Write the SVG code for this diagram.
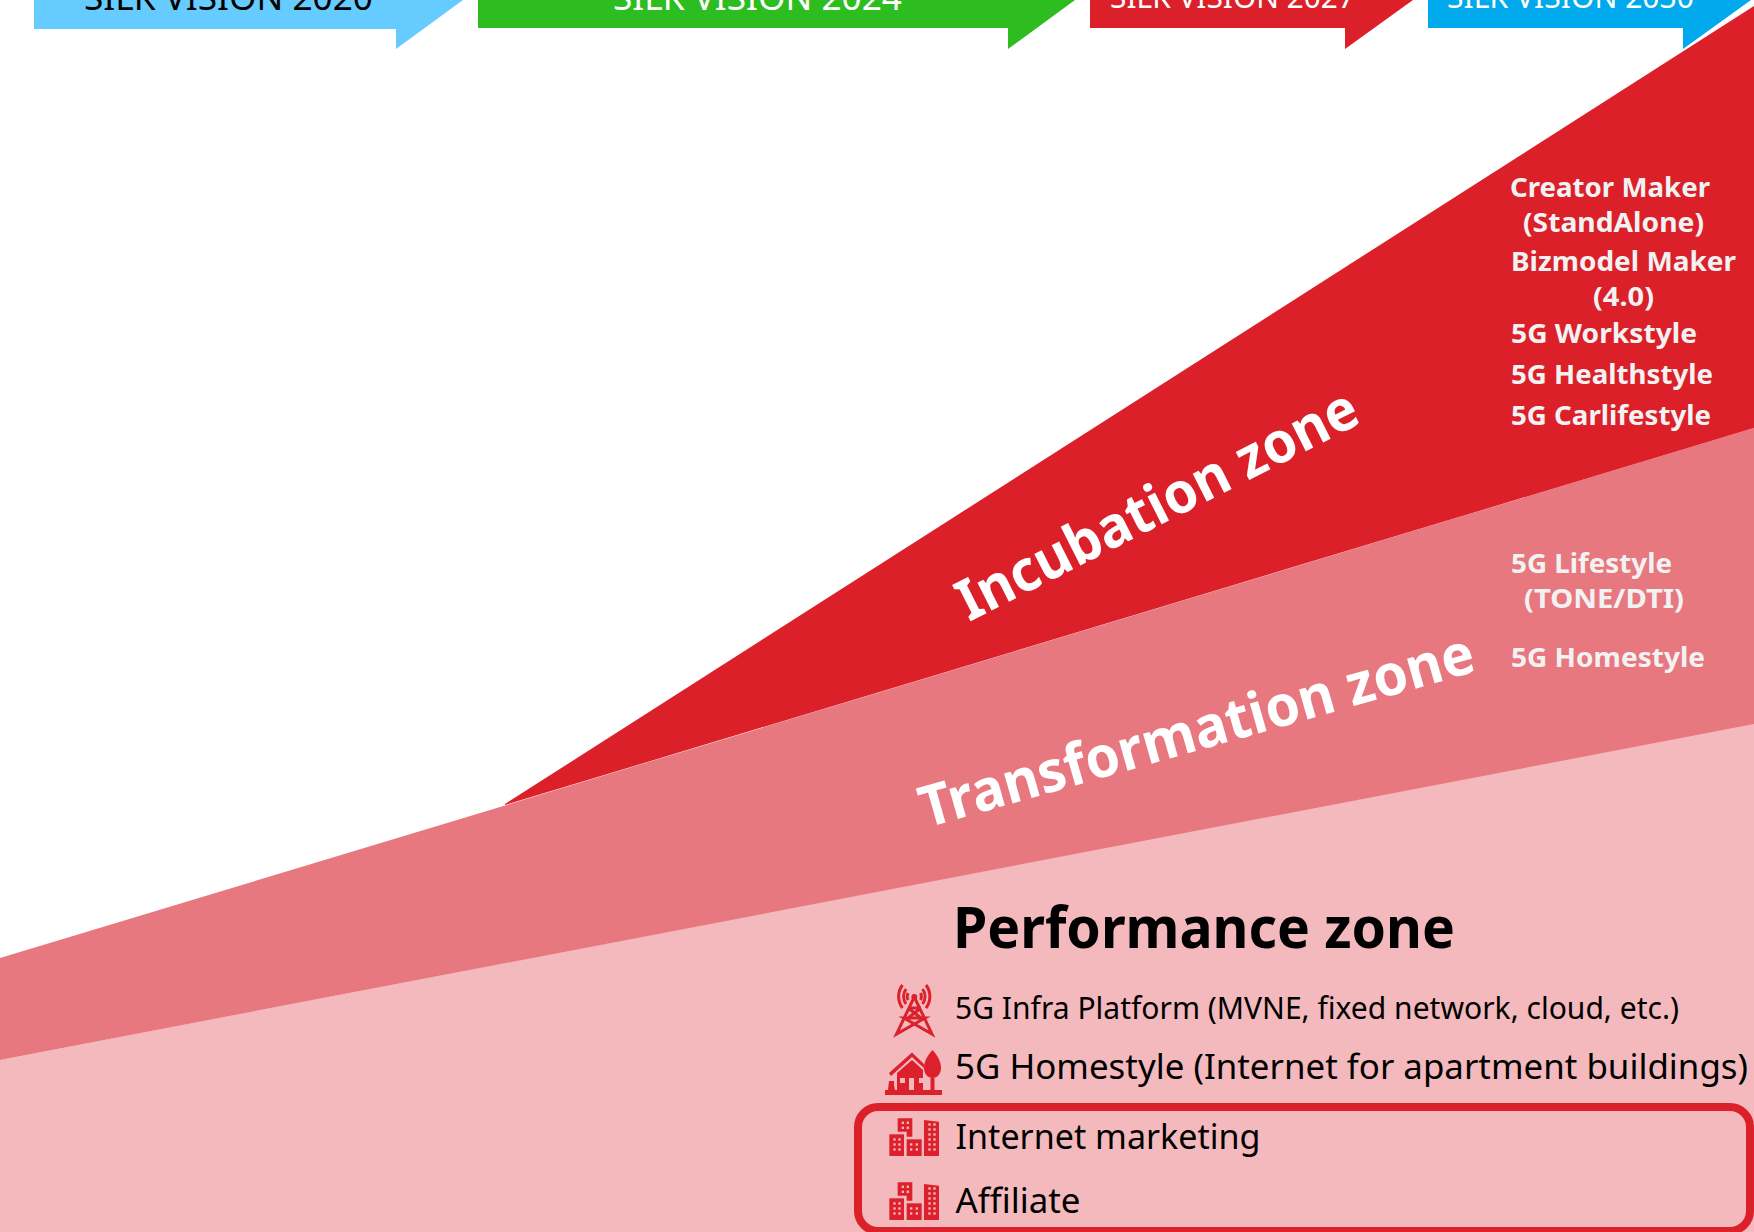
<svg xmlns="http://www.w3.org/2000/svg" width="1754" height="1232" viewBox="0 0 1754 1232">
<style>
text{font-family:"Noto Sans","Open Sans","Liberation Sans",sans-serif}
.ban{font-size:34px}
.ban2{font-size:30px}
.side{font-size:27px;font-weight:700;fill:#f2f2f2}
.zone{font-size:57px;font-weight:700;fill:#fff}
.perf{font-size:57px;font-weight:700;fill:#000}
.item{font-size:35px;fill:#000}
.ic{fill:#dc202c}
.icl{fill:none;stroke:#dc202c;stroke-width:3}
.win{fill:#f4b9bd}
</style>
<defs>
<g id="building">
<path class="ic" d="M113 475H157V530H140V515H113Z"/>
<path class="ic" d="M88 523H132V588H88Z"/>
<path class="ic" d="M140 538H185V588H140Z"/>
<path class="ic" d="M192 480L237 485V588H192Z"/>
<g class="win">
<rect x="125" y="485" width="7" height="7"/><rect x="140" y="485" width="7" height="7"/><rect x="125" y="500" width="7" height="7"/><rect x="140" y="500" width="7" height="7"/>
<rect x="100" y="535" width="7" height="7"/><rect x="115" y="535" width="7" height="7"/><rect x="100" y="550" width="7" height="7"/><rect x="115" y="550" width="7" height="7"/><rect x="100" y="565" width="7" height="7"/><rect x="115" y="565" width="7" height="7"/>
<rect x="150" y="550" width="7" height="7"/><rect x="167" y="550" width="7" height="7"/><rect x="150" y="565" width="7" height="7"/><rect x="167" y="565" width="7" height="7"/>
<rect x="205" y="490" width="7" height="7"/><rect x="220" y="490" width="7" height="7"/><rect x="205" y="505" width="7" height="7"/><rect x="220" y="505" width="7" height="7"/><rect x="205" y="520" width="7" height="7"/><rect x="220" y="520" width="7" height="7"/><rect x="205" y="535" width="7" height="7"/><rect x="220" y="535" width="7" height="7"/><rect x="205" y="550" width="7" height="7"/><rect x="220" y="550" width="7" height="7"/><rect x="205" y="565" width="7" height="7"/><rect x="220" y="565" width="7" height="7"/>
</g>
</g>
</defs>
<rect width="1754" height="1232" fill="#fff"/>
<g id="zones">
<polygon id="performance-area" points="0,1060 1754,723 1754,1232 0,1232" fill="#f4b9bd"/>
<polygon id="transformation-area" points="0,958 1754,428 1754,724 0,1060" fill="#e8787f"/>
<polygon id="incubation-area" points="505,804 1754,6 1754,428 505,805" fill="#dc202a"/>
</g>
<g id="banners">
<g id="banner-2020"><polygon points="34,0 463,0 396,49 396,29 34,29" fill="#66ccff"/><text class="ban" x="84" y="10" textLength="289" lengthAdjust="spacingAndGlyphs" fill="#000">SILK VISION 2020</text></g>
<g id="banner-2024"><polygon points="478,0 1075,0 1008,49 1008,28 478,28" fill="#2ebd20"/><text class="ban" x="613" y="10" textLength="289" lengthAdjust="spacingAndGlyphs" fill="#fff">SILK VISION 2024</text></g>
<g id="banner-2027"><polygon points="1090,0 1413,0 1345,49 1345,28 1090,28" fill="#dc202a"/><text class="ban2" x="1110" y="8" textLength="245" lengthAdjust="spacingAndGlyphs" fill="#fff">SILK VISION 2027</text></g>
<g id="banner-2030"><polygon points="1428,0 1751,0 1683,49 1683,28 1428,28" fill="#00a8ec"/><text class="ban2" x="1447" y="8" textLength="247" lengthAdjust="spacingAndGlyphs" fill="#fff">SILK VISION 2030</text></g>
</g>
<g id="incubation-zone">
<text class="zone" transform="translate(969,622) rotate(-26.9)" textLength="442" lengthAdjust="spacingAndGlyphs">Incubation zone</text>
<text class="side" x="1510" y="197" textLength="200" lengthAdjust="spacingAndGlyphs">Creator Maker</text>
<text class="side" x="1523" y="232" textLength="181" lengthAdjust="spacingAndGlyphs">(StandAlone)</text>
<text class="side" x="1511" y="271" textLength="225" lengthAdjust="spacingAndGlyphs">Bizmodel Maker</text>
<text class="side" x="1593" y="306" textLength="61" lengthAdjust="spacingAndGlyphs">(4.0)</text>
<text class="side" x="1511" y="343" textLength="186" lengthAdjust="spacingAndGlyphs">5G Workstyle</text>
<text class="side" x="1511" y="384" textLength="202" lengthAdjust="spacingAndGlyphs">5G Healthstyle</text>
<text class="side" x="1511" y="425" textLength="200" lengthAdjust="spacingAndGlyphs">5G Carlifestyle</text>
</g>
<g id="transformation-zone">
<text class="zone" transform="translate(926,828) rotate(-15.9)" textLength="574" lengthAdjust="spacingAndGlyphs">Transformation zone</text>
<text class="side" x="1511" y="573" textLength="161" lengthAdjust="spacingAndGlyphs">5G Lifestyle</text>
<text class="side" x="1524" y="608" textLength="160" lengthAdjust="spacingAndGlyphs">(TONE/DTI)</text>
<text class="side" x="1511" y="667" textLength="194" lengthAdjust="spacingAndGlyphs">5G Homestyle</text>
</g>
<g id="performance-zone">
<text class="perf" x="953" y="948" textLength="502" lengthAdjust="spacingAndGlyphs">Performance zone</text>
<g id="infra-item">
<g id="tower-icon">
<circle class="ic" cx="914.3" cy="997" r="3"/>
<path class="icl" d="M914.3 997L896.5 1034L925 1018H904L932 1034ZM908 1008L921 1018M921 1008L908 1018M908 1008H921"/>
<path class="icl" stroke-width="2.5" d="M908 993a8 8 0 0 0 0 7M920.6 993a8 8 0 0 1 0 7"/>
<path class="icl" d="M906 989a13 13 0 0 0 0 15M922.6 989a13 13 0 0 1 0 15"/>
<path class="icl" d="M902.5 985a19 19 0 0 0 0 23M926 985a19 19 0 0 1 0 23"/>
</g>
<text class="item" x="955" y="1019" style="font-size:30px" textLength="724" lengthAdjust="spacingAndGlyphs">5G Infra Platform (MVNE, fixed network, cloud, etc.)</text>
</g>
<g id="homestyle-item">
<g id="house-icon">
<rect class="ic" x="885" y="1090" width="57" height="5"/>
<path class="ic" d="M889 1073L912 1052.5L924 1064V1068L912 1057L891 1076Z"/>
<path class="ic" d="M897 1073L912 1060L923 1070V1090H897Z"/>
<rect class="win" x="900" y="1078" width="5" height="5"/><rect class="win" x="909" y="1078" width="5" height="12"/><rect class="win" x="919" y="1078" width="5" height="5"/>
<path class="ic" d="M932.5 1050C938 1056 941 1062 941 1068C941 1074 937 1078 932.5 1078C928 1078 924 1074 924 1068C924 1062 927 1056 932.5 1050Z"/>
<rect class="ic" x="930.5" y="1078" width="4" height="13"/>
<path class="ic" d="M889 1081H894V1085L895 1090H888Z"/>
</g>
<text class="item" x="955" y="1079" textLength="793" lengthAdjust="spacingAndGlyphs">5G Homestyle (Internet for apartment buildings)</text>
</g>
<g id="internet-marketing-item">
<use href="#building" transform="translate(860,960) scale(0.3333)"/>
<text class="item" x="955.5" y="1149" textLength="305" lengthAdjust="spacingAndGlyphs">Internet marketing</text>
</g>
<g id="affiliate-item">
<use href="#building" transform="translate(860,1024) scale(0.3333)"/>
<text class="item" x="955.5" y="1213" textLength="125" lengthAdjust="spacingAndGlyphs">Affiliate</text>
</g>
<rect id="highlight-box" x="858" y="1107" width="892" height="124" rx="20" fill="none" stroke="#dc202a" stroke-width="8"/>
</g>
</svg>
